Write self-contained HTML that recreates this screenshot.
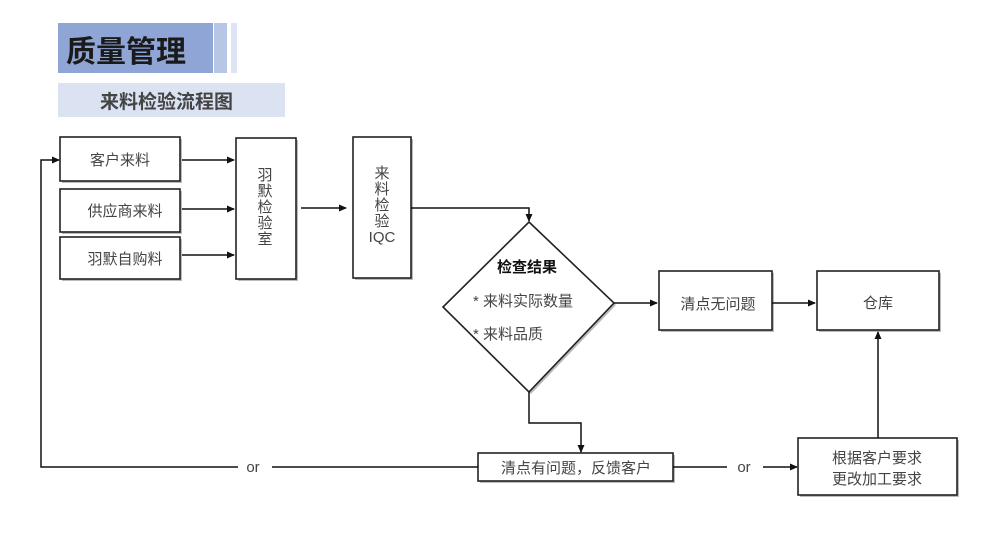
<!DOCTYPE html>
<html><head><meta charset="utf-8"><style>
html,body{margin:0;padding:0;background:#fff;width:999px;height:534px;overflow:hidden}
svg{display:block}
text{font-family:"Liberation Sans","Noto Sans CJK SC",sans-serif;fill:#444}
</style></head><body>
<svg width="999" height="534" viewBox="0 0 999 534" xmlns="http://www.w3.org/2000/svg">
<defs>
<marker id="a" markerWidth="8" markerHeight="8" refX="7" refY="4" orient="auto" markerUnits="userSpaceOnUse">
<path d="M0,0.5 L8,4 L0,7.5 z" fill="#111"/></marker>
</defs>
<rect x="58" y="23" width="155" height="50" fill="#8fa5d6"/>
<rect x="214" y="23" width="13" height="50" fill="#b8c6e6"/>
<rect x="231" y="23" width="6" height="50" fill="#dde4f3"/>
<text x="66" y="62" font-size="30" font-weight="bold" style="fill:#1a1a1a">质量管理</text>
<rect x="58" y="83" width="227" height="34" fill="#dbe2f2"/>
<text x="100" y="108" font-size="19" font-weight="bold" style="fill:#444">来料检验流程图</text>
<g stroke="#222" stroke-width="1.6" fill="#fff">
<g fill="#bbb" stroke="none">
<rect x="62" y="139" width="120" height="44"/><rect x="62" y="191" width="120" height="43"/><rect x="62" y="239" width="120" height="42"/>
<rect x="238" y="140" width="60" height="141"/><rect x="355" y="139" width="58" height="141"/>
<rect x="661" y="273" width="113" height="59"/><rect x="819" y="273" width="122" height="59"/>
<rect x="480" y="455" width="195" height="28"/><rect x="800" y="440" width="159" height="57"/>
<polygon points="531,224 616,305 531,394 445,309"/>
</g>
<rect x="60" y="137" width="120" height="44"/>
<rect x="60" y="189" width="120" height="43"/>
<rect x="60" y="237" width="120" height="42"/>
<rect x="236" y="138" width="60" height="141"/>
<rect x="353" y="137" width="58" height="141"/>
<polygon points="529,222 614,303 529,392 443,307"/>
<rect x="659" y="271" width="113" height="59"/>
<rect x="817" y="271" width="122" height="59"/>
<rect x="478" y="453" width="195" height="28"/>
<rect x="798" y="438" width="159" height="57"/>
</g>
<g stroke="#111" stroke-width="1.5" fill="none">
<line x1="182" y1="160" x2="234" y2="160" marker-end="url(#a)"/>
<line x1="182" y1="209" x2="234" y2="209" marker-end="url(#a)"/>
<line x1="182" y1="255" x2="234" y2="255" marker-end="url(#a)"/>
<line x1="301" y1="208" x2="346" y2="208" marker-end="url(#a)"/>
<polyline points="411,208 529,208 529,221" marker-end="url(#a)"/>
<line x1="614" y1="303" x2="657" y2="303" marker-end="url(#a)"/>
<line x1="772" y1="303" x2="815" y2="303" marker-end="url(#a)"/>
<polyline points="529,392 529,423 581,423 581,452" marker-end="url(#a)"/>
<polyline points="478,467 272,467"/>
<polyline points="238,467 41,467 41,160 59,160" marker-end="url(#a)"/>
<line x1="673" y1="467" x2="727" y2="467"/>
<line x1="763" y1="467" x2="797" y2="467" marker-end="url(#a)"/>
<line x1="878" y1="438" x2="878" y2="332" marker-end="url(#a)"/>
</g>
<g font-size="15" text-anchor="middle">
<text x="120" y="165">客户来料</text>
<text x="125" y="216">供应商来料</text>
<text x="125" y="264">羽默自购料</text>
<text x="265" y="180">羽</text><text x="265" y="196">默</text><text x="265" y="212">检</text><text x="265" y="228">验</text><text x="265" y="244">室</text>
<text x="382" y="178">来</text><text x="382" y="194">料</text><text x="382" y="210">检</text><text x="382" y="226">验</text><text x="382" y="242">IQC</text>
<text x="527" y="272" font-weight="bold" style="fill:#111">检查结果</text>
<text x="718" y="309">清点无问题</text>
<text x="878" y="308">仓库</text>
<text x="576" y="473">清点有问题，反馈客户</text>
<text x="877" y="463">根据客户要求</text>
<text x="877" y="484">更改加工要求</text>
<text x="253" y="472">or</text>
<text x="744" y="472">or</text>
</g>
<g font-size="15">
<text x="473" y="306">* 来料实际数量</text>
<text x="473" y="339">* 来料品质</text>
</g>
</svg>
</body></html>
